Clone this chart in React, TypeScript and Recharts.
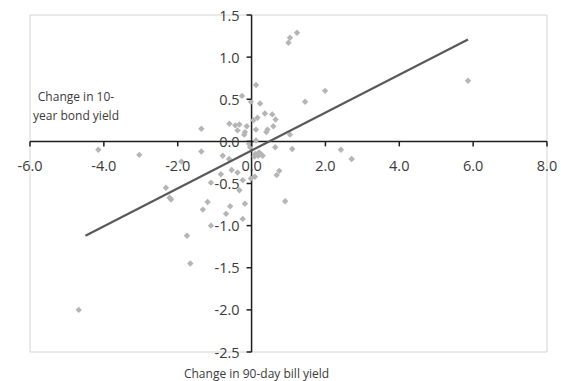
import React from "react";
import {
  ScatterChart,
  Scatter,
  XAxis,
  YAxis,
  CartesianGrid,
  ReferenceLine,
  ReferenceDot,
} from "recharts";

const billChange: number[] = [
  1.0, 1.04, 1.23, 0.12, -0.26, -0.02, 0.23, 1.45, 1.99, -1.36,
  -0.6, -0.44, -0.33, -0.13, -0.18, -0.38, 0.05, 0.16, 0.36, 0.56,
  0.65, 0.43, 0.59, 0.12, 1.04, -0.2, 5.86, -4.15, -3.04, -1.9,
  -2.32, -2.22, -2.18, -1.75, -1.66, -4.68, -1.36, -0.78, -0.61, -0.83,
  -0.54, -0.38, -0.24, -0.33, -1.1, -1.19, -1.32, -0.58, -0.69, -0.18,
  -0.24, -1.1, -0.02, 0.09, 0.91, 0.68, 0.75, 0.64, 1.1, 2.42,
  2.71, -0.07, -0.04, 0.12, 0.1, 0.18, 0.25, 0.3, 0.08, 0.2, 0.4,
];
const bondChange: number[] = [
  1.17, 1.23, 1.29, 0.67, 0.54, 0.47, 0.45, 0.47, 0.6, 0.15,
  0.21, 0.19, 0.2, 0.18, 0.11, 0.13, 0.25, 0.28, 0.33, 0.32,
  0.26, 0.14, 0.18, 0.14, 0.08, 0.08, 0.72, -0.1, -0.16, -0.24,
  -0.55, -0.67, -0.69, -1.12, -1.45, -2.0, -0.12, -0.17, -0.21, -0.39,
  -0.34, -0.37, -0.46, -0.58, -0.49, -0.72, -0.81, -0.77, -0.86, -0.74,
  -0.92, -1.0, -0.44, -0.42, -0.71, -0.4, -0.35, -0.07, -0.09, -0.1,
  -0.21, -0.03, -0.07, 0.01, -0.15, -0.17, -0.15, -0.17, -0.18, -0.13, 0.11,
];

const trendX: number[] = [-4.5, 5.86];
const trendY: number[] = [-1.12, 1.21];

const xTicks: number[] = [-6, -4, -2, 0, 2, 4, 6, 8];
const yTicks: number[] = [-2.5, -2, -1.5, -1, -0.5, 0, 0.5, 1, 1.5];

const xTitle = "Change in 90-day bill yield";
const yTitleLines: string[] = ["Change in 10-", "year bond yield"];

const points = billChange.map((x, i) => ({ x, y: bondChange[i] }));
const trend = trendX.map((x, i) => ({ x, y: trendY[i] }));

const FONT = "'Open Sans', 'Noto Sans', sans-serif";
const TEXT = "#3a3a3a";

const Diamond = (props: any) => {
  const { cx, cy } = props;
  if (cx == null || cy == null) return <g />;
  const r = 3.2;
  return (
    <polygon
      points={`${cx},${cy - r} ${cx + r},${cy} ${cx},${cy + r} ${cx - r},${cy}`}
      fill="#b5b5b5"
    />
  );
};

const NoShape = () => <g />;

export default function App() {
  return (
    <div style={{ position: "absolute", left: 0, top: 0, width: 561, height: 381 }}>
      <ScatterChart
        width={561}
        height={381}
        margin={{ top: 15, right: 14, bottom: 29, left: 30 }}
        style={{ fontFamily: FONT }}
      >
        <CartesianGrid stroke="#d4d4d4" strokeWidth={1} />
        <XAxis
          type="number"
          dataKey="x"
          domain={[-6, 8]}
          ticks={xTicks}
          tick={false}
          tickLine={false}
          axisLine={false}
          height={0}
          allowDataOverflow
        />
        <YAxis
          type="number"
          dataKey="y"
          domain={[-2.5, 1.5]}
          ticks={yTicks}
          tick={false}
          tickLine={false}
          axisLine={false}
          width={0}
          allowDataOverflow
        />
        <Scatter data={points} shape={Diamond} isAnimationActive={false} />
        <ReferenceLine x={0} stroke="#1e1e1e" strokeWidth={1.5} />
        <ReferenceLine y={0} stroke="#1e1e1e" strokeWidth={1.5} />
        <Scatter
          data={trend}
          shape={NoShape}
          line={{ stroke: "#595959", strokeWidth: 2.2 }}
          isAnimationActive={false}
        />
        {xTicks.map((t) => (
          <ReferenceDot
            key={`xt${t}`}
            x={t}
            y={0}
            r={0}
            shape={(p: any) => (
              <g>
                <line x1={p.cx} y1={p.cy} x2={p.cx} y2={p.cy + 5} stroke="#1e1e1e" strokeWidth={1.5} />
                <text
                  x={p.cx}
                  y={p.cy + 24}
                  textAnchor="middle"
                  dominantBaseline="central"
                  fontSize={14.5}
                  fill={TEXT}
                  fontFamily={FONT}
                >
                  {t.toFixed(1)}
                </text>
              </g>
            )}
          />
        ))}
        {yTicks.map((t) => (
          <ReferenceDot
            key={`yt${t}`}
            x={0}
            y={t}
            r={0}
            shape={(p: any) => (
              <g>
                <line x1={p.cx - 5} y1={p.cy} x2={p.cx} y2={p.cy} stroke="#1e1e1e" strokeWidth={1.5} />
                <text
                  x={p.cx - 12}
                  y={p.cy}
                  textAnchor="end"
                  dominantBaseline="central"
                  fontSize={14.5}
                  fill={TEXT}
                  fontFamily={FONT}
                >
                  {t.toFixed(1)}
                </text>
              </g>
            )}
          />
        ))}
        <ReferenceDot
          x={0}
          y={-2.5}
          r={0}
          shape={(p: any) => (
            <text
              x={p.cx + 5}
              y={p.cy + 21}
              textAnchor="middle"
              dominantBaseline="central"
              fontSize={12}
              fill={TEXT}
              fontFamily={FONT}
            >
              {xTitle}
            </text>
          )}
        />
        <ReferenceDot
          x={-6}
          y={0}
          r={0}
          shape={(p: any) => (
            <g>
              {yTitleLines.map((line, i) => (
                <text
                  key={i}
                  x={p.cx + 46}
                  y={p.cy - 45 + i * 19.5}
                  textAnchor="middle"
                  dominantBaseline="central"
                  fontSize={12}
                  fill={TEXT}
                  fontFamily={FONT}
                >
                  {line}
                </text>
              ))}
            </g>
          )}
        />
      </ScatterChart>
    </div>
  );
}
